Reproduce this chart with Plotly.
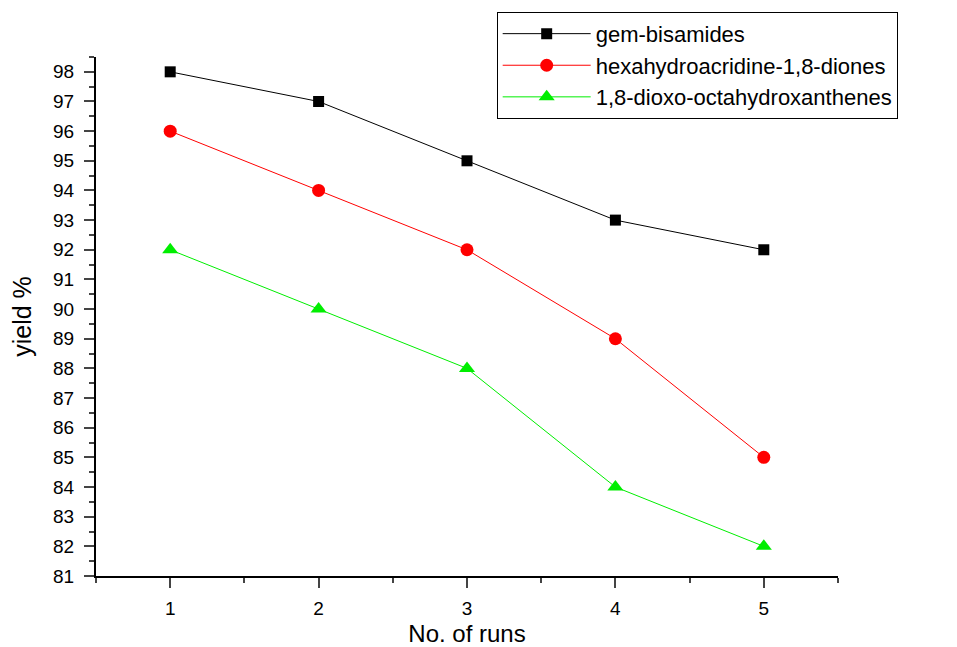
import plotly.graph_objects as go

runs = [1, 2, 3, 4, 5]
gem_bisamides = [98, 97, 95, 93, 92]
hexahydroacridine = [96, 94, 92, 89, 85]
dioxo_xanthenes = [92, 90, 88, 84, 82]
y_ticks = list(range(81, 99))

fig = go.Figure()
fig.add_trace(go.Scatter(x=runs, y=gem_bisamides, mode="lines+markers", name="gem-bisamides",
                         line=dict(color="black", width=1),
                         marker=dict(symbol="square", size=11, color="black")))
fig.add_trace(go.Scatter(x=runs, y=hexahydroacridine, mode="lines+markers", name="hexahydroacridine-1,8-diones",
                         line=dict(color="red", width=1),
                         marker=dict(symbol="circle", size=13, color="red")))
fig.add_trace(go.Scatter(x=runs, y=dioxo_xanthenes, mode="lines+markers", name="1,8-dioxo-octahydroxanthenes",
                         line=dict(color="#00ee00", width=1),
                         marker=dict(symbol="triangle-up", size=14, color="#00ee00")))

axis_font = dict(family="Liberation Sans, Arial", size=19, color="black")
fig.update_layout(
    width=957, height=647,
    margin=dict(l=96, r=119, t=57, b=71),
    plot_bgcolor="white", paper_bgcolor="white",
    font=dict(family="Liberation Sans, Arial", color="black"),
    showlegend=True,
    legend=dict(x=0.54, y=1.087, xanchor="left", yanchor="top",
                bordercolor="black", borderwidth=1, bgcolor="white",
                font=dict(size=22, family="Liberation Sans, Arial"),
                itemwidth=88, tracegroupgap=0),
    xaxis=dict(range=[0.5, 5.5], tickvals=runs, ticks="outside", ticklen=10, tickwidth=2,
               showline=True, linecolor="black", linewidth=2, showgrid=False, zeroline=False,
               tickfont=axis_font, automargin=False, ticklabelstandoff=4,
               minor=dict(dtick=0.5, tick0=0.5, ticks="outside", ticklen=5, tickwidth=2, showgrid=False),
               title=dict(text="No. of runs", font=dict(size=24), standoff=12)),
    yaxis=dict(range=[81, 98.5], tickvals=y_ticks, ticks="outside", ticklen=10, tickwidth=2,
               showline=True, linecolor="black", linewidth=2, showgrid=False, zeroline=False,
               tickfont=axis_font, automargin=False, ticklabelstandoff=6,
               minor=dict(dtick=0.5, tick0=0.5, ticks="outside", ticklen=5, tickwidth=2, showgrid=False),
               title=dict(text="yield %", font=dict(size=25), standoff=14)),
)
fig.write_html("out.html")
